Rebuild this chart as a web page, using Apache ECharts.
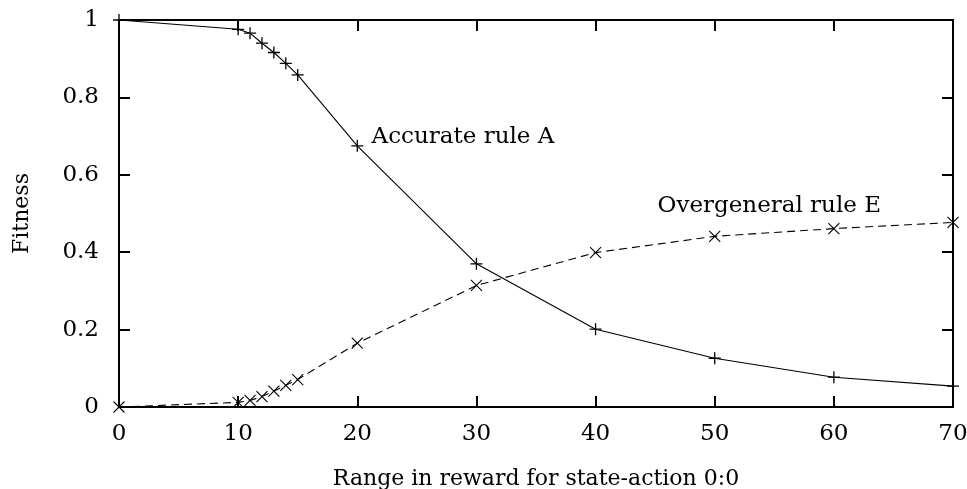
<!DOCTYPE html>
<html>
<head>
<meta charset="utf-8">
<script src="https://cdn.jsdelivr.net/npm/echarts@6/dist/echarts.min.js"></script>
<style>
html,body{margin:0;padding:0;background:#fff;}
#c{width:967px;height:489px;}
</style>
</head>
<body>
<div id="c"></div>
<script>
const xValues = [0, 10, 11, 12, 13, 14, 15, 20, 30, 40, 50, 60, 70];
const ruleA = [1.0, 0.976, 0.966, 0.940, 0.916, 0.888, 0.858, 0.675, 0.370, 0.201, 0.126, 0.077, 0.054];
const ruleE = [0, 0.012, 0.017, 0.027, 0.041, 0.056, 0.071, 0.165, 0.314, 0.399, 0.441, 0.461, 0.477];
const labelA = {text: 'Accurate rule A', x: 21.2, y: 0.698};
const labelE = {text: 'Overgeneral rule E', x: 45.2, y: 0.520};

const FONT = 'DejaVu Serif';
const FS = 23;
const plus = 'path://M-1,0L1,0M0,-1L0,1';
const cross = 'path://M-1,-1L1,1M-1,1L1,-1';

const chart = echarts.init(document.getElementById('c'), null, {renderer: 'canvas'});
const axisBase = {
  type: 'value',
  axisLine: {show: true, onZero: false, lineStyle: {color: '#000', width: 2}},
  axisTick: {show: true, inside: true, length: 11, lineStyle: {color: '#000', width: 2}},
  splitLine: {show: false},
};
const xAx = Object.assign({}, axisBase, {min: 0, max: 70, interval: 10});
const yAx = Object.assign({}, axisBase, {min: 0, max: 1, interval: 0.2});

function pts(ys) { return xValues.map((x, i) => [x, ys[i]]); }

chart.setOption({
  animation: false,
  backgroundColor: '#fff',
  grid: {left: 119, right: 14, top: 20, bottom: 82, containLabel: false, outerBoundsMode: 'none'},
  xAxis: [
    Object.assign({}, xAx, {
      position: 'bottom',
      name: 'Range in reward for state-action 0:0',
      nameLocation: 'middle', nameGap: 61,
      nameTextStyle: {fontFamily: FONT, fontSize: 22, color: '#000'},
      axisLabel: {fontFamily: FONT, fontSize: FS, color: '#000', margin: 16}
    }),
    Object.assign({}, xAx, {position: 'top', axisLabel: {show: false}})
  ],
  yAxis: [
    Object.assign({}, yAx, {
      position: 'left',
      name: 'Fitness',
      nameLocation: 'middle', nameGap: 86,
      nameTextStyle: {fontFamily: FONT, fontSize: 22, color: '#000'},
      axisLabel: {fontFamily: FONT, fontSize: FS, color: '#000', margin: 20}
    }),
    Object.assign({}, yAx, {position: 'right', axisLabel: {show: false}})
  ],
  series: [
    {
      type: 'line', name: 'A', data: pts(ruleA), clip: false,
      symbol: plus, symbolSize: 12, showSymbol: true,
      lineStyle: {color: '#000', width: 1.1},
      itemStyle: {color: '#000', borderColor: '#000', borderWidth: 1.3},
      markPoint: {
        symbol: 'circle', symbolSize: 0, silent: true,
        label: {show: true, position: 'right', distance: 0, formatter: labelA.text,
          fontFamily: FONT, fontSize: FS, color: '#000'},
        data: [{coord: [labelA.x, labelA.y]}]
      }
    },
    {
      type: 'line', name: 'E', data: pts(ruleE), clip: false,
      symbol: cross, symbolSize: 11, showSymbol: true,
      lineStyle: {color: '#000', width: 1.1, type: [8, 5]},
      itemStyle: {color: '#000', borderColor: '#000', borderWidth: 1.1},
      markPoint: {
        symbol: 'circle', symbolSize: 0, silent: true,
        label: {show: true, position: 'right', distance: 0, formatter: labelE.text,
          fontFamily: FONT, fontSize: FS, color: '#000'},
        data: [{coord: [labelE.x, labelE.y]}]
      }
    }
  ]
});
</script>
</body>
</html>
